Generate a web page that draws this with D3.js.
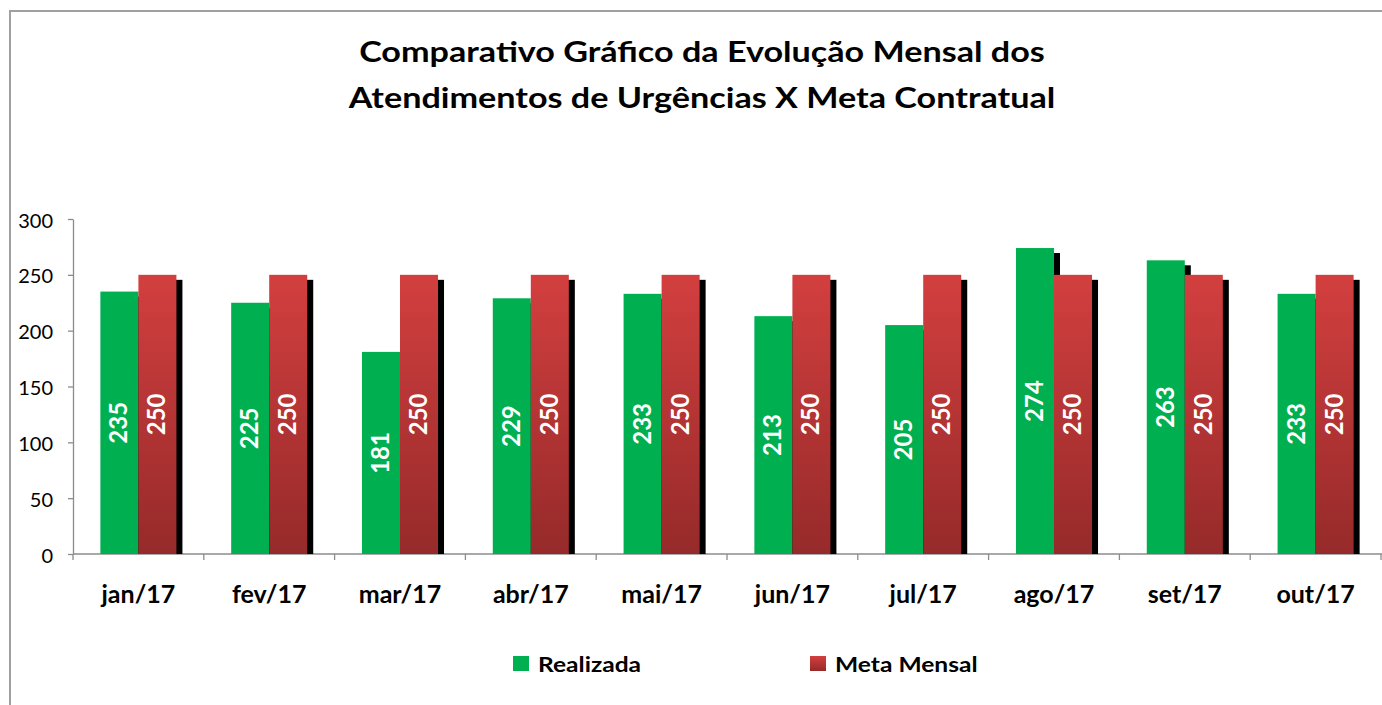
<!DOCTYPE html>
<html>
<head>
<meta charset="utf-8">
<script src="https://cdn.jsdelivr.net/npm/d3@7"></script>
<style>
    body { margin: 0; background: #fff; }
    text { font-family: Lato, "Open Sans", sans-serif; }
</style>
</head>
<body>
<div id="chart"></div>
<script>

// data
let months = ['jan/17', 'fev/17', 'mar/17', 'abr/17', 'mai/17', 'jun/17', 'jul/17', 'ago/17', 'set/17', 'out/17'];
let realizada = [235, 225, 181, 229, 233, 213, 205, 274, 263, 233];
let metaMensal = [250, 250, 250, 250, 250, 250, 250, 250, 250, 250];
let seriesNames = ['Realizada', 'Meta Mensal'];
let yTicks = [0, 50, 100, 150, 200, 250, 300];
let titleLines = ['Comparativo Gráfico da Evolução Mensal dos', 'Atendimentos de Urgências X Meta Contratual'];

let width = 1382, height = 705;
let margin = {top: 219, right: 1, bottom: 151, left: 73};

let svg = d3.select('#chart').append('svg')
    .attr('width', width)
    .attr('height', height);

// gradient for the red series
let defs = svg.append('defs');
let grad = defs.append('linearGradient')
    .attr('id', 'redGrad')
    .attr('x1', 0).attr('y1', 0).attr('x2', 0).attr('y2', 1);
grad.append('stop').attr('offset', '0%').attr('stop-color', '#d33f3f');
grad.append('stop').attr('offset', '100%').attr('stop-color', '#962a2a');

// chart border (runs off the right and bottom edges)
svg.append('rect')
    .attr('x', 10).attr('y', 11)
    .attr('width', 1500).attr('height', 800)
    .attr('fill', 'none')
    .attr('stroke', '#a0a0a0')
    .attr('stroke-width', 2);

// title (Calibri in the original is wider, so stretch a bit)
svg.append('g')
    .selectAll('text')
    .data(titleLines)
    .enter().append('text')
    .attr('transform', (d, i) => `translate(702, ${62 + i * 46}) scale(1.22, 1)`)
    .attr('text-anchor', 'middle')
    .attr('font-weight', 'bold')
    .attr('font-size', 28)
    .attr('fill', '#000')
    .text(d => d);

// scales
let x = d3.scaleBand()
    .domain(months)
    .range([margin.left, width - margin.right])
    .paddingInner(0)
    .paddingOuter(0);

let xInner = d3.scaleBand()
    .domain(seriesNames)
    .range([0, x.bandwidth()])
    .paddingInner(0)
    .paddingOuter(0.72);

let y = d3.scaleLinear()
    .domain([0, 300])
    .range([height - margin.bottom, margin.top]);

let rows = months.map((m, i) => ({month: m, values: [
    {name: 'Realizada', value: realizada[i]},
    {name: 'Meta Mensal', value: metaMensal[i]}
]}));

// y axis
let yAxis = svg.append('g')
    .attr('class', 'axis')
    .attr('transform', `translate(${margin.left}, 0)`)
    .call(d3.axisLeft(y).tickValues(yTicks).tickSize(5).tickSizeOuter(0));
yAxis.select('.domain').attr('stroke', '#8c8c8c').attr('stroke-width', 1.3);
yAxis.selectAll('.tick line').attr('stroke', '#8c8c8c').attr('stroke-width', 1.3);
yAxis.selectAll('.tick text')
    .attr('x', -20)
    .attr('dy', '0.4em')
    .attr('font-size', 20)
    .attr('font-family', 'Lato, sans-serif')
    .attr('fill', '#000');

// x axis baseline with ticks between categories
let xAxis = svg.append('g').attr('class', 'axis');
xAxis.append('line')
    .attr('x1', margin.left).attr('x2', width)
    .attr('y1', y(0)).attr('y2', y(0))
    .attr('stroke', '#8c8c8c').attr('stroke-width', 1.3);
xAxis.selectAll('.xtick')
    .data(months.concat(['end']))
    .enter().append('line')
    .attr('class', 'xtick')
    .attr('x1', (d, i) => margin.left + i * x.step())
    .attr('x2', (d, i) => margin.left + i * x.step())
    .attr('y1', y(0)).attr('y2', y(0) + 6)
    .attr('stroke', '#8c8c8c').attr('stroke-width', 1.3);
xAxis.selectAll('.xlabel')
    .data(months)
    .enter().append('text')
    .attr('class', 'xlabel')
    .attr('x', d => x(d) + x.bandwidth() / 2)
    .attr('y', y(0) + 49)
    .attr('text-anchor', 'middle')
    .attr('font-weight', 'bold')
    .attr('font-size', 25)
    .text(d => d);

// bars
let groups = svg.selectAll('.month')
    .data(rows)
    .enter().append('g')
    .attr('class', 'month')
    .attr('transform', d => `translate(${x(d.month)}, 0)`);

let shOff = 6, shDrop = 5;

// shadows first so both series sit on top
groups.selectAll('.shadow')
    .data(d => d.values)
    .enter().append('rect')
    .attr('class', 'shadow')
    .attr('x', d => xInner(d.name) + shOff)
    .attr('y', d => y(d.value) + shDrop)
    .attr('width', xInner.bandwidth())
    .attr('height', d => y(0) - y(d.value) - shDrop)
    .attr('fill', '#000');

groups.selectAll('.bar')
    .data(d => d.values)
    .enter().append('rect')
    .attr('class', 'bar')
    .attr('x', d => xInner(d.name))
    .attr('y', d => y(d.value))
    .attr('width', xInner.bandwidth())
    .attr('height', d => y(0) - y(d.value))
    .attr('fill', d => d.name === 'Realizada' ? '#00b050' : 'url(#redGrad)');

// value labels, rotated, centred in the bar
groups.selectAll('.val')
    .data(d => d.values)
    .enter().append('text')
    .attr('class', 'val')
    .attr('transform', d => `translate(${xInner(d.name) + xInner.bandwidth() / 2 + 8}, ${(y(d.value) + y(0)) / 2}) rotate(-90)`)
    .attr('text-anchor', 'middle')
    .attr('font-weight', 'bold')
    .attr('font-size', 24)
    .attr('fill', '#fff')
    .text(d => d.value);

// legend
let legend = svg.append('g').attr('class', 'legend');
let legendX = [513, 810];
seriesNames.forEach((name, i) => {
    let g = legend.append('g').attr('transform', `translate(${legendX[i]}, 656)`);
    g.append('rect')
        .attr('width', 16).attr('height', 15)
        .attr('fill', i === 0 ? '#00b050' : 'url(#redGrad)');
    g.append('text')
        .attr('transform', 'translate(25, 16) scale(1.17, 1)')
        .attr('font-weight', 'bold')
        .attr('font-size', 21)
        .text(name);
});

</script>
</body>
</html>
